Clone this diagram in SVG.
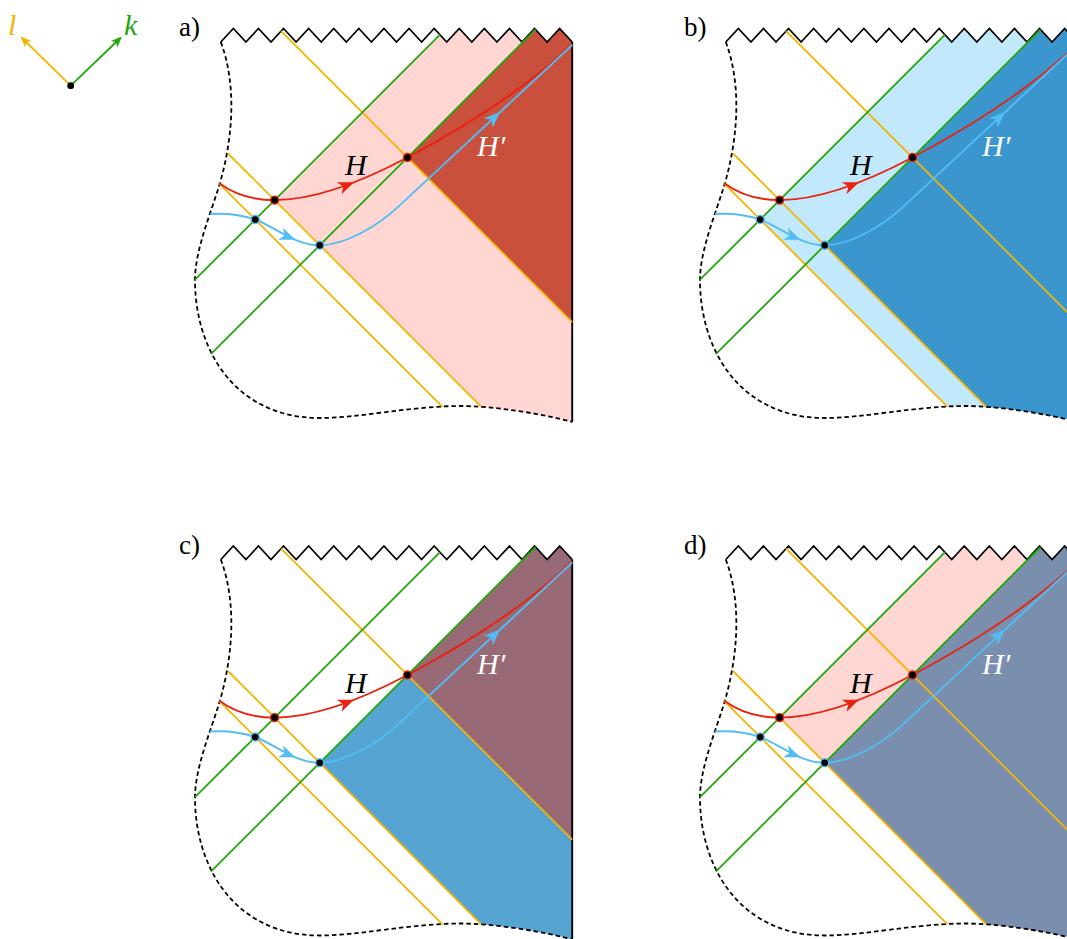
<svg xmlns="http://www.w3.org/2000/svg" width="1067" height="939" viewBox="0 0 1067 939">
<style>
.zz{fill:none;stroke:#000;stroke-width:1.7;stroke-linejoin:miter}
.bd{fill:none;stroke:#000;stroke-width:1.8;stroke-dasharray:4.5 3}
.edge{stroke:#000;stroke-width:1.9}
.or{stroke:#F5B400;stroke-width:1.8;fill:none}
.gr{stroke:#22A60A;stroke-width:1.8;fill:none}
.rc{stroke:#E8230F;stroke-width:1.9;fill:none}
.bc{stroke:#52BDF5;stroke-width:1.9;fill:none}
.ra{fill:#E8230F}
.ba{fill:#52BDF5}
.rd{fill:#000;stroke:#E8230F;stroke-width:1.3}
.bdot{fill:#000;stroke:#52BDF5;stroke-width:1.3}
.lbl{font-family:"Liberation Serif","DejaVu Serif",serif;font-size:27px;fill:#000}
.math{font-family:"Liberation Serif","DejaVu Serif",serif;font-style:italic;font-size:30px}
</style>
<defs>
<clipPath id="region" clipPathUnits="userSpaceOnUse"><path d="M220.8,42 L233.35,28.5 L245.9,42 L258.45,28.5 L271,42 L283.55,28.5 L296.1,42 L308.65,28.5 L321.2,42 L333.75,28.5 L346.3,42 L358.85,28.5 L371.4,42 L383.95,28.5 L396.5,42 L409.05,28.5 L421.6,42 L434.15,28.5 L446.7,42 L459.25,28.5 L471.8,42 L484.35,28.5 L496.9,42 L509.45,28.5 L522,42 L534.55,28.5 L547.1,42 L559.65,28.5 L572.2,42 L572.2,422 C540,413 490,406 461,406 C410,406 360,418 320,418 C235,418 195,350 195,280 C195,250 211,213 220,183 C235,130 235,80 220.8,42 Z"/></clipPath>
<polygon id="wR1" points="274.6,200.1 774.6,-299.9 774.6,700.1"/>
<polygon id="wR2" points="407.5,157.5 907.5,-342.5 907.5,657.5"/>
<polygon id="wB1" points="255.2,219.5 755.2,-280.5 755.2,719.5"/>
<polygon id="wB2" points="319.75,245.25 819.75,-254.75 819.75,745.25"/>
<path id="ah" d="M0,0 L-16,-6.5 L-11.5,0 L-16,6.5 Z"/>
<path id="ahs" d="M0,0 L-11,-4.5 L-8,0 L-11,4.5 Z"/>
<g id="art">
<path class="bd" d="M220.8,42 C235,80 235,130 220,183 C211,213 195,250 195,280 C195,350 235,418 320,418 C360,418 410,406 461,406 C490,406 540,413 572.2,422"/>
<line class="edge" x1="572.2" y1="42" x2="572.2" y2="422"/>
<path class="zz" d="M220.8,42 L233.35,28.5 L245.9,42 L258.45,28.5 L271,42 L283.55,28.5 L296.1,42 L308.65,28.5 L321.2,42 L333.75,28.5 L346.3,42 L358.85,28.5 L371.4,42 L383.95,28.5 L396.5,42 L409.05,28.5 L421.6,42 L434.15,28.5 L446.7,42 L459.25,28.5 L471.8,42 L484.35,28.5 L496.9,42 L509.45,28.5 L522,42 L534.55,28.5 L547.1,42 L559.65,28.5 L572.2,42"/>
<line class="or" x1="281.1" y1="31.1" x2="572.2" y2="322.2"/>
<line class="or" x1="228" y1="153.5" x2="480.8" y2="406.3"/>
<line class="or" x1="219" y1="183.3" x2="442.5" y2="406.8"/>
<line class="gr" x1="195" y1="279.7" x2="440" y2="34.7"/>
<line class="gr" x1="210.8" y1="354.2" x2="535.5" y2="29.5"/>
<path class="rc" d="M219,183 C235,195 255,200.1 274.6,200.1 C315,200.1 365,180 407.5,157.5 C470,124 530,85 572.2,44"/>
<path class="bc" d="M210,214 C228,213 242,215 255.2,219.5 C275,227 295,245.25 319.75,245.25 C345,245.25 378,226 400,205.1 L572.2,45"/>
<use href="#ah" class="ra" transform="translate(354,182.2) rotate(-22)"/>
<use href="#ah" class="ba" transform="translate(295.3,239.7) rotate(22)"/>
<use href="#ah" class="ba" transform="translate(500,112) rotate(-43)"/>
<circle class="rd" cx="274.6" cy="200.1" r="4"/>
<circle class="rd" cx="407.5" cy="157.5" r="4"/>
<circle class="bdot" cx="255.2" cy="219.5" r="4"/>
<circle class="bdot" cx="319.75" cy="245.25" r="4"/>
<text class="math" x="345" y="175" fill="#000">H</text>
<text class="math" x="477" y="156" fill="#fff">H′</text>
</g>
</defs>

<g id="legend">
<line x1="70.7" y1="85.7" x2="22" y2="38" stroke="#F5B400" stroke-width="1.8"/>
<use href="#ahs" fill="#F5B400" transform="translate(20.5,36.5) rotate(-135)"/>
<line x1="70.7" y1="85.7" x2="120.4" y2="38" stroke="#22A60A" stroke-width="1.8"/>
<use href="#ahs" fill="#22A60A" transform="translate(121.9,36.5) rotate(-45)"/>
<circle cx="70.7" cy="85.7" r="3.4" fill="#000"/>
<text class="math" x="8" y="35" fill="#F5B400">l</text>
<text class="math" x="124" y="35" fill="#22A60A">k</text>
</g>

<g id="panel-a">
<g clip-path="url(#region)">
<use href="#wR1" fill="#FFD6D1"/>
<use href="#wR2" fill="#C8503D"/>
</g>
<use href="#art"/>
<text class="lbl" x="179" y="36">a)</text>
</g>

<g id="panel-b" transform="translate(505,0)">
<g clip-path="url(#region)">
<use href="#wB1" fill="#C2E8FB"/>
<use href="#wB2" fill="#3A96CD"/>
</g>
<use href="#art"/>
<text class="lbl" x="179" y="36">b)</text>
</g>

<g id="panel-c" transform="translate(0,517.5)">
<g clip-path="url(#region)">
<use href="#wB2" fill="#56A4D2"/>
<use href="#wR2" fill="#976A76"/>
</g>
<use href="#art"/>
<text class="lbl" x="179" y="36">c)</text>
</g>

<g id="panel-d" transform="translate(505,517.5)">
<g clip-path="url(#region)">
<use href="#wR1" fill="#FFD6D1"/>
<use href="#wB2" fill="#7A8FAE"/>
</g>
<use href="#art"/>
<text class="lbl" x="179" y="36">d)</text>
</g>
</svg>
